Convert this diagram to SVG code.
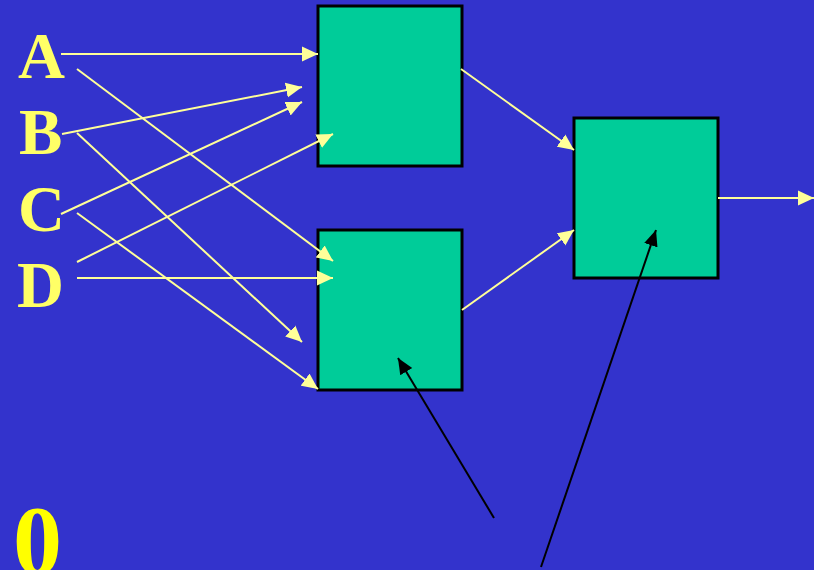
<svg xmlns="http://www.w3.org/2000/svg" width="814" height="570" viewBox="0 0 814 570">
<style>
.box{fill:#00CC99;stroke:#000;stroke-width:3}
.y{stroke:#FFFF99;stroke-width:2;fill:none;marker-end:url(#ay)}
.k{stroke:#000;stroke-width:2;fill:none;marker-end:url(#ak)}
.lbl{font-family:"Liberation Serif","Times New Roman",serif;font-weight:bold;font-size:65px;fill:#FFFF66}
</style>
<defs>
<marker id="ay" markerUnits="userSpaceOnUse" markerWidth="16" markerHeight="16" refX="16" refY="7.5" orient="auto" viewBox="0 0 16 15">
<path d="M0,0 L16,7.5 L0,15 Z" fill="#FFFF99"/>
</marker>
<marker id="ak" markerUnits="userSpaceOnUse" markerWidth="16" markerHeight="16" refX="16" refY="7" orient="auto" viewBox="0 0 16 14">
<path d="M0,0 L16,7 L0,14 Z" fill="#000"/>
</marker>
</defs>
<rect width="814" height="570" fill="#3333CC"/>
<g id="labels">
<text class="lbl" x="18" y="78">A</text>
<text class="lbl" x="19" y="154">B</text>
<text class="lbl" x="18" y="231">C</text>
<text class="lbl" x="17" y="307">D</text>
<text x="13" y="573" font-family="Liberation Serif, serif" font-weight="bold" font-size="98" fill="#FFFF00">0</text>
</g>
<g id="node1"><rect class="box" x="318" y="6" width="144" height="160"/></g>
<g id="node2"><rect class="box" x="318" y="230" width="144" height="160"/></g>
<g id="node3"><rect class="box" x="574" y="118" width="144" height="160"/></g>
<g id="connectors">
<line class="y" x1="61" y1="54" x2="318" y2="54"/>
<line class="y" x1="77" y1="69" x2="333" y2="261"/>
<line class="y" x1="62" y1="134" x2="302" y2="87"/>
<line class="y" x1="77" y1="133" x2="302" y2="342"/>
<line class="y" x1="61" y1="214" x2="302" y2="102"/>
<line class="y" x1="77" y1="213" x2="318" y2="389"/>
<line class="y" x1="77" y1="262" x2="333" y2="134"/>
<line class="y" x1="77" y1="278" x2="333" y2="278"/>
<line class="y" x1="461" y1="69" x2="574" y2="150"/>
<line class="y" x1="462" y1="310" x2="574" y2="230"/>
<line class="y" x1="718" y1="198" x2="814" y2="198"/>
<line class="k" x1="494" y1="518" x2="398" y2="358"/>
<line class="k" x1="541" y1="567" x2="656" y2="230"/>
</g>
</svg>
